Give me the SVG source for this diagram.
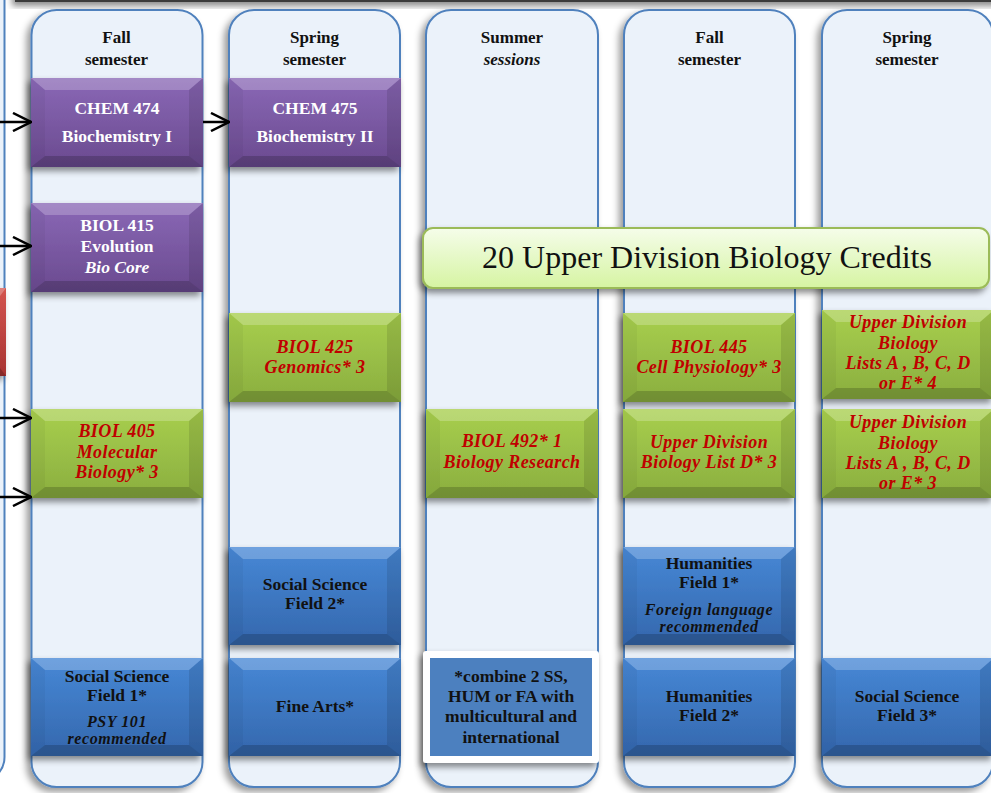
<svg xmlns="http://www.w3.org/2000/svg" width="991" height="793" viewBox="0 0 991 793" font-family="'Liberation Serif', 'DejaVu Serif', serif">
<style>
text{font-family:'Liberation Serif','DejaVu Serif',serif;text-anchor:middle}
.hd{font-size:17px;font-weight:bold;fill:#111}
.hdi{font-size:17px;font-weight:bold;font-style:italic;fill:#111}
.pw{font-size:17.5px;font-weight:bold;fill:#fff}
.pwi{font-size:17.5px;font-weight:bold;font-style:italic;fill:#fff}
.gr{font-size:18px;font-weight:bold;font-style:italic;fill:#C00000;letter-spacing:0.4px}
.bk{font-size:17.5px;font-weight:bold;fill:#111}
.bki{font-size:16px;font-weight:bold;font-style:italic;fill:#111;letter-spacing:0.6px}
.big{font-size:32px;fill:#111}
.col{fill:#EBF2FA;stroke:#4F81BD;stroke-width:2}
.conn{stroke:#000;stroke-width:2.5;fill:none}
</style>
<defs>
<filter id="sh" x="-20%" y="-20%" width="140%" height="140%">
<feDropShadow dx="-3" dy="4" stdDeviation="3" flood-color="#000" flood-opacity="0.45"/>
</filter>
<filter id="shc" x="-20%" y="-5%" width="140%" height="110%">
<feDropShadow dx="-4" dy="4" stdDeviation="3.5" flood-color="#000" flood-opacity="0.4"/>
</filter>
<linearGradient id="gP" x1="0" y1="0" x2="0" y2="1"><stop offset="0" stop-color="#8A68B6"/><stop offset="1" stop-color="#6A4A8F"/></linearGradient>
<linearGradient id="gG" x1="0" y1="0" x2="0" y2="1"><stop offset="0" stop-color="#A8CF4E"/><stop offset="1" stop-color="#8AAE3F"/></linearGradient>
<linearGradient id="gB" x1="0" y1="0" x2="0" y2="1"><stop offset="0" stop-color="#4788D6"/><stop offset="1" stop-color="#3467AD"/></linearGradient>
<linearGradient id="gR" x1="0" y1="0" x2="0" y2="1"><stop offset="0" stop-color="#D4544F"/><stop offset="1" stop-color="#A83331"/></linearGradient>
<linearGradient id="gC" x1="0" y1="0" x2="0" y2="1"><stop offset="0" stop-color="#F5FDEA"/><stop offset="1" stop-color="#D6F4A2"/></linearGradient>
<g id="bev89">
<polygon points="0,0 172,0 158,12 14,12" fill="#fff" opacity="0.22"/>
<polygon points="0,89 172,89 158,78 14,78" fill="#000" opacity="0.18"/>
<polygon points="0,0 14,12 14,78 0,89" fill="#000" opacity="0.04"/>
<polygon points="172,0 158,12 158,78 172,89" fill="#000" opacity="0.1"/>
</g>
<g id="bev98">
<polygon points="0,0 172,0 158,12 14,12" fill="#fff" opacity="0.22"/>
<polygon points="0,98 172,98 158,87 14,87" fill="#000" opacity="0.18"/>
<polygon points="0,0 14,12 14,87 0,98" fill="#000" opacity="0.04"/>
<polygon points="172,0 158,12 158,87 172,98" fill="#000" opacity="0.1"/>
</g>
<marker id="arr" viewBox="0 0 20 20" refX="19" refY="10" markerWidth="20" markerHeight="20" markerUnits="userSpaceOnUse" orient="auto">
<path d="M1,1 L19,10 L1,19" fill="none" stroke="#000" stroke-width="2.5"/>
</marker>
</defs>

<rect width="991" height="793" fill="#fff"/>

<g id="top-bar">
<rect x="15" y="-30" width="1000" height="32" fill="#3A3A3A" filter="url(#sh)"/>
</g>

<g id="columns">
<path id="col0" class="col" d="M-40,-5 L4.5,-5 L4.5,757 A25,25 0 0 1 -20.5,782 L-40,782 Z"/>
<rect id="col1" class="col" x="31.5" y="10" width="171" height="777" rx="25" filter="url(#shc)"/>
<rect id="col2" class="col" x="229" y="10" width="171" height="777" rx="25" filter="url(#shc)"/>
<rect id="col3" class="col" x="426" y="10" width="172" height="777" rx="25" filter="url(#shc)"/>
<rect id="col4" class="col" x="624" y="10" width="171" height="777" rx="25" filter="url(#shc)"/>
<rect id="col5" class="col" x="822" y="10" width="171" height="777" rx="25" filter="url(#shc)"/>
</g>

<g id="headers">
<text class="hd" x="116.5" y="43">Fall</text><text class="hd" x="116.5" y="65">semester</text>
<text class="hd" x="314.5" y="43">Spring</text><text class="hd" x="314.5" y="65">semester</text>
<text class="hd" x="512" y="43">Summer</text><text class="hdi" x="512" y="65">sessions</text>
<text class="hd" x="709.5" y="43">Fall</text><text class="hd" x="709.5" y="65">semester</text>
<text class="hd" x="907" y="43">Spring</text><text class="hd" x="907" y="65">semester</text>
</g>

<g id="red-box">
<rect x="-80" y="288" width="86" height="88" fill="url(#gR)" filter="url(#sh)"/>
<polygon points="-80,288 6,288 0,296 -80,296" fill="#fff" opacity="0.25"/>
<polygon points="-80,376 6,376 0,368 -80,368" fill="#000" opacity="0.2"/>
</g>

<g id="chem474">
<rect x="31" y="78" width="172" height="89" fill="url(#gP)" filter="url(#sh)"/>
<use href="#bev89" x="31" y="78"/>
<text class="pw" x="117" y="114">CHEM 474</text>
<text class="pw" x="117" y="142">Biochemistry I</text>
</g>

<g id="chem475">
<rect x="229" y="78" width="172" height="89" fill="url(#gP)" filter="url(#sh)"/>
<use href="#bev89" x="229" y="78"/>
<text class="pw" x="315" y="114">CHEM 475</text>
<text class="pw" x="315" y="142">Biochemistry II</text>
</g>

<g id="biol415">
<rect x="31" y="203" width="172" height="89" fill="url(#gP)" filter="url(#sh)"/>
<use href="#bev89" x="31" y="203"/>
<text class="pw" x="117" y="231">BIOL 415</text>
<text class="pw" x="117" y="252">Evolution</text>
<text class="pwi" x="117" y="273">Bio Core</text>
</g>

<g id="credits-callout">
<rect x="423" y="228" width="566" height="60" rx="10" fill="url(#gC)" stroke="#9BBB59" stroke-width="2" filter="url(#sh)"/>
<text class="big" x="707" y="268">20 Upper Division Biology Credits</text>
</g>

<g id="biol425">
<rect x="229" y="313" width="172" height="89" fill="url(#gG)" filter="url(#sh)"/>
<use href="#bev89" x="229" y="313"/>
<text class="gr" x="315" y="353">BIOL 425</text>
<text class="gr" x="315" y="373">Genomics* 3</text>
</g>

<g id="biol445">
<rect x="623" y="313" width="172" height="89" fill="url(#gG)" filter="url(#sh)"/>
<use href="#bev89" x="623" y="313"/>
<text class="gr" x="709" y="353">BIOL 445</text>
<text class="gr" x="709" y="373">Cell Physiology* 3</text>
</g>

<g id="ud-bio-4">
<rect x="822" y="310" width="172" height="89" fill="url(#gG)" filter="url(#sh)"/>
<use href="#bev89" x="822" y="310"/>
<text class="gr" x="908" y="328">Upper Division</text>
<text class="gr" x="908" y="349">Biology</text>
<text class="gr" x="908" y="369">Lists A , B, C, D</text>
<text class="gr" x="908" y="389">or E* 4</text>
</g>

<g id="biol405">
<rect x="31" y="409" width="172" height="89" fill="url(#gG)" filter="url(#sh)"/>
<use href="#bev89" x="31" y="409"/>
<text class="gr" x="117" y="437">BIOL 405</text>
<text class="gr" x="117" y="458">Molecular</text>
<text class="gr" x="117" y="478">Biology* 3</text>
</g>

<g id="biol492">
<rect x="426" y="409" width="172" height="89" fill="url(#gG)" filter="url(#sh)"/>
<use href="#bev89" x="426" y="409"/>
<text class="gr" x="512" y="447">BIOL 492*  1</text>
<text class="gr" x="512" y="468">Biology Research</text>
</g>

<g id="ud-bio-list-d">
<rect x="623" y="409" width="172" height="89" fill="url(#gG)" filter="url(#sh)"/>
<use href="#bev89" x="623" y="409"/>
<text class="gr" x="709" y="448">Upper Division</text>
<text class="gr" x="709" y="468">Biology List D* 3</text>
</g>

<g id="ud-bio-3">
<rect x="822" y="409" width="172" height="89" fill="url(#gG)" filter="url(#sh)"/>
<use href="#bev89" x="822" y="409"/>
<text class="gr" x="908" y="428">Upper Division</text>
<text class="gr" x="908" y="449">Biology</text>
<text class="gr" x="908" y="469">Lists A , B, C, D</text>
<text class="gr" x="908" y="489">or E* 3</text>
</g>

<g id="soc-sci-2">
<rect x="229" y="547" width="172" height="98" fill="url(#gB)" filter="url(#sh)"/>
<use href="#bev98" x="229" y="547"/>
<text class="bk" x="315" y="590">Social Science</text>
<text class="bk" x="315" y="609">Field 2*</text>
</g>

<g id="hum-1">
<rect x="623" y="547" width="172" height="98" fill="url(#gB)" filter="url(#sh)"/>
<use href="#bev98" x="623" y="547"/>
<text class="bk" x="709" y="569">Humanities</text>
<text class="bk" x="709" y="588">Field 1*</text>
<text class="bki" x="709" y="615">Foreign language</text>
<text class="bki" x="709" y="632">recommended</text>
</g>

<g id="soc-sci-1">
<rect x="31" y="658" width="172" height="98" fill="url(#gB)" filter="url(#sh)"/>
<use href="#bev98" x="31" y="658"/>
<text class="bk" x="117" y="682">Social Science</text>
<text class="bk" x="117" y="701">Field 1*</text>
<text class="bki" x="117" y="727">PSY 101</text>
<text class="bki" x="117" y="744">recommended</text>
</g>

<g id="fine-arts">
<rect x="229" y="658" width="172" height="98" fill="url(#gB)" filter="url(#sh)"/>
<use href="#bev98" x="229" y="658"/>
<text class="bk" x="315" y="712">Fine Arts*</text>
</g>

<g id="note">
<rect x="423" y="651" width="176" height="112" rx="3" fill="#fff" filter="url(#sh)"/>
<rect x="430" y="658" width="162" height="98" fill="#4C80BF"/>
<text class="bk" x="511" y="682">*combine 2 SS,</text>
<text class="bk" x="511" y="702">HUM or FA with</text>
<text class="bk" x="511" y="722">multicultural and</text>
<text class="bk" x="511" y="743">international</text>
</g>

<g id="hum-2">
<rect x="623" y="658" width="172" height="98" fill="url(#gB)" filter="url(#sh)"/>
<use href="#bev98" x="623" y="658"/>
<text class="bk" x="709" y="702">Humanities</text>
<text class="bk" x="709" y="721">Field 2*</text>
</g>

<g id="soc-sci-3">
<rect x="822" y="658" width="172" height="98" fill="url(#gB)" filter="url(#sh)"/>
<use href="#bev98" x="822" y="658"/>
<text class="bk" x="907" y="702">Social Science</text>
<text class="bk" x="907" y="721">Field 3*</text>
</g>

<g id="connectors">
<line class="conn" x1="0" y1="122" x2="31" y2="122" marker-end="url(#arr)"/>
<line class="conn" x1="203" y1="122" x2="229" y2="122" marker-end="url(#arr)"/>
<line class="conn" x1="0" y1="246" x2="31" y2="246" marker-end="url(#arr)"/>
<line class="conn" x1="0" y1="418" x2="31" y2="418" marker-end="url(#arr)"/>
<line class="conn" x1="0" y1="497" x2="31" y2="497" marker-end="url(#arr)"/>
</g>
</svg>
